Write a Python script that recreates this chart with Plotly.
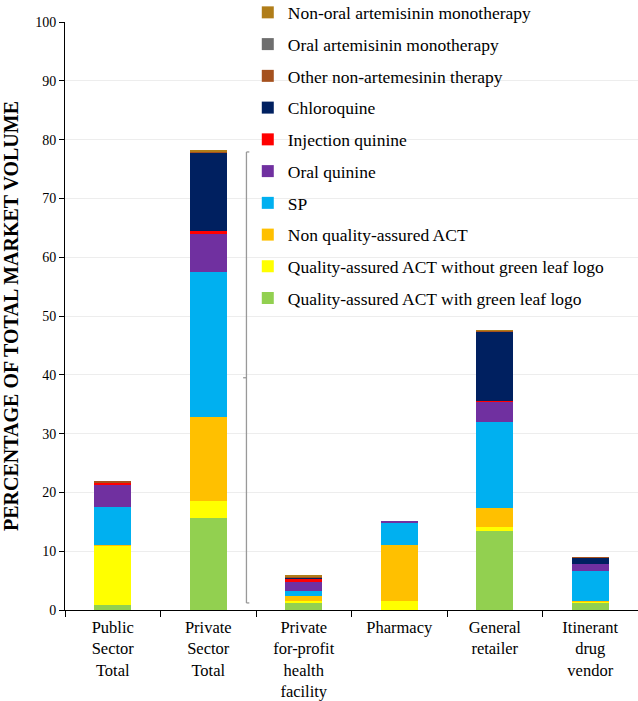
import plotly.graph_objects as go

categories = ["Public<br>Sector<br>Total", "Private<br>Sector<br>Total",
              "Private<br>for-profit<br>health<br>facility", "Pharmacy",
              "General<br>retailer", "Itinerant<br>drug<br>vendor"]

# stacking order bottom -> top
series_names = [
    "Quality-assured ACT with green leaf logo",
    "Quality-assured ACT without green leaf logo",
    "Non quality-assured ACT",
    "SP",
    "Oral quinine",
    "Injection quinine",
    "Chloroquine",
    "Other non-artemesinin therapy",
    "Oral artemisinin monotherapy",
    "Non-oral artemisinin monotherapy",
]
colors = ["#92D050", "#FFFF00", "#FFC000", "#00B0F0", "#7030A0",
          "#FF0000", "#002060", "#A5511E", "#6E6E6E", "#B07D19"]

qa_green = [0.8, 15.6, 1.15, 0.0, 13.4, 1.15]
qa_nogreen = [10.1, 3.0, 0.35, 1.5, 0.7, 0.35]
non_qa_act = [0.1, 14.2, 0.8, 9.6, 3.2, 0.1]
sp = [6.5, 24.7, 1.0, 3.65, 14.7, 5.1]
oral_quinine = [3.9, 6.4, 1.45, 0.35, 3.45, 1.1]
inj_quinine = [0.3, 0.5, 0.5, 0.0, 0.1, 0.0]
chloroquine = [0.0, 13.4, 0.35, 0.0, 11.85, 1.1]
other_non_art = [0.1, 0.1, 0.1, 0.0, 0.05, 0.1]
oral_art_mono = [0.0, 0.1, 0.0, 0.0, 0.0, 0.0]
nonoral_art_mono = [0.0, 0.3, 0.1, 0.0, 0.1, 0.0]

series_values = [qa_green, qa_nogreen, non_qa_act, sp, oral_quinine,
                 inj_quinine, chloroquine, other_non_art, oral_art_mono,
                 nonoral_art_mono]

y_ticks = [0, 10, 20, 30, 40, 50, 60, 70, 80, 90, 100]

FONT = "Liberation Serif, Times New Roman, serif"

fig = go.Figure()
for i, (name, vals, col) in enumerate(zip(series_names, series_values, colors)):
    fig.add_trace(go.Bar(
        x=categories, y=vals, name=name,
        marker=dict(color=col, line=dict(width=0)),
        legendgroup=f"g{i}",
        legendrank=1000 - i * 10,
    ))

# bracket
bx = 1.40
y0b, y1b = 1.2, 77.9
line = dict(color="#999999", width=1.3)
fig.add_shape(type="line", x0=bx, x1=bx, y0=y0b, y1=y1b, xref="x", yref="y", line=line)
fig.add_shape(type="line", x0=bx, x1=bx + 0.03, y0=y0b, y1=y0b, xref="x", yref="y", line=line)
fig.add_shape(type="line", x0=bx, x1=bx + 0.03, y0=y1b, y1=y1b, xref="x", yref="y", line=line)
fig.add_shape(type="line", x0=bx - 0.035, x1=bx, y0=39.5, y1=39.5, xref="x", yref="y", line=line)

fig.update_layout(
    width=638, height=701,
    barmode="stack", bargap=0.61,
    plot_bgcolor="white", paper_bgcolor="white",
    margin=dict(l=65, r=0, t=22, b=91, autoexpand=False),
    font=dict(family=FONT, color="black", size=17),
    showlegend=True,
    legend=dict(
        x=0.319, y=1.0468, xanchor="left", yanchor="top",
        traceorder="grouped", tracegroupgap=6, maxheight=760,
        bgcolor="rgba(0,0,0,0)", font=dict(size=17.5, family=FONT),
    ),
    xaxis=dict(
        showline=True, linecolor="black", linewidth=1,
        ticks="outside", tickson="boundaries", ticklen=6, tickcolor="black",
        tickfont=dict(size=16.5, family=FONT), range=[-0.5, 5.5],
        ticklabelstandoff=2,
    ),
    yaxis=dict(
        range=[0, 100], tickvals=y_ticks,
        showline=True, linecolor="black", linewidth=1,
        ticks="outside", ticklen=5, tickcolor="black",
        showgrid=True, gridcolor="#EDEDED", gridwidth=1,
        tickfont=dict(size=14, family=FONT),
        title=dict(text="<b>PERCENTAGE OF TOTAL MARKET VOLUME</b>",
                   font=dict(size=20, family=FONT), standoff=12),
    ),
)

fig.write_html("out.html", config={"displayModeBar": False},
               post_script="document.body.style.margin='0';document.body.style.overflow='hidden';")
